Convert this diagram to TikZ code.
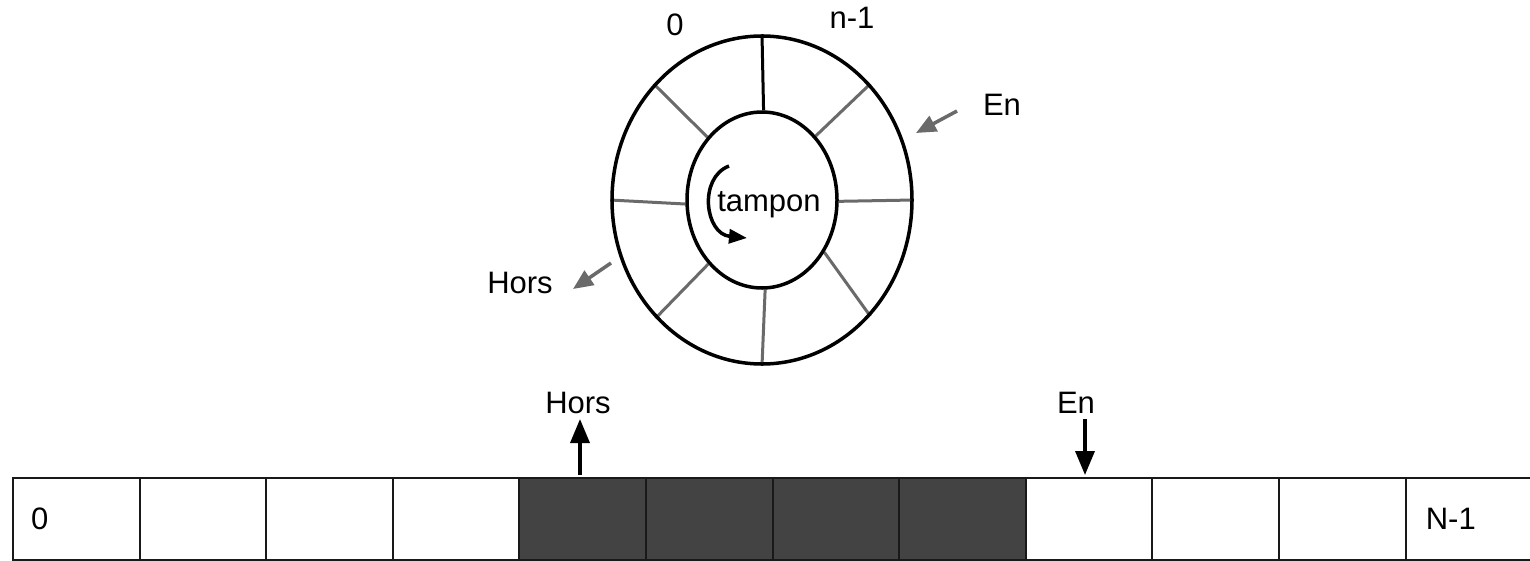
\documentclass[tikz,border=0pt]{standalone}
\usepackage{fontspec}
\setmainfont{Liberation Sans}
\usetikzlibrary{arrows.meta,shapes.geometric,backgrounds}
\definecolor{spokegray}{HTML}{6A6A6A}
\definecolor{darkcell}{HTML}{434343}
\begin{document}
\begin{tikzpicture}[x=1pt,y=-1pt,
  lbl/.style={font=\fontsize{31}{36}\selectfont, inner sep=0pt},
  cell/.style={draw=black!90, line width=2pt, minimum width=126.6pt, minimum height=82pt, inner sep=0pt},
  darkc/.style={cell, fill=darkcell},
  spoke/.style={draw=spokegray, line width=3pt},
  blackspoke/.style={draw=black, line width=3pt},
  ring/.style={draw=black, line width=3.5pt, ellipse, inner sep=0pt},
  grayarrow/.style={draw=spokegray, line width=3.5pt, -{Triangle[length=20pt,width=17pt]}},
  blackarrow/.style={draw=black, line width=3.5pt, -{Triangle[length=24pt,width=19pt]}}
]
\useasboundingbox (0,0) rectangle (1530,560);
\clip (0,0) rectangle (1530,560);

% ring buffer
\node[ring, minimum width=300pt, minimum height=328pt] (outer) at (762,200) {};
\node[ring, minimum width=150pt, minimum height=176pt] (inner) at (762,200) {};
\begin{pgfonlayer}{background}
\fill[white] (0,0) rectangle (1530,560);
\draw[blackspoke] (outer.90) -- (inner.89);
\draw[spoke] (outer.47) -- (inner.50);
\draw[spoke] (outer.0) -- (inner.-1.5);
\draw[spoke] (outer.-47.5) -- (inner.-40);
\draw[spoke] (outer.-90) -- (inner.-88);
\draw[spoke] (outer.-132) -- (inner.-130);
\draw[spoke] (outer.180) -- (inner.183);
\draw[spoke] (outer.133) -- (inner.131.5);
\end{pgfonlayer}

\node[lbl] (zero) at (675,25) {0};
\node[lbl] (nm1) at (852,18) {n-1};
\node[lbl] (tampon) at (769,205) {tampon};
\coordinate (ts) at (729,166);
\coordinate (te) at (747,238);
\draw[line width=3.5pt, -{Triangle[length=18pt,width=14pt]}] (ts) .. controls (698,178) and (705,234) .. (te);

\node[lbl] (enTop) at (1002,105) {En};
\node[lbl] (horsTop) at (520,283) {Hors};
\coordinate (enS) at (957,111);
\coordinate (enE) at (916,133);
\coordinate (hoS) at (611,263);
\coordinate (hoE) at (573,289);
\draw[grayarrow] (enS) -- (enE);
\draw[grayarrow] (hoS) -- (hoE);

% linear buffer
\foreach \i in {0,1,2,3,8,9,10,11} \node[cell] (c\i) at ({13+126.6*(\i+0.5)},519) {};
\foreach \i in {4,5,6,7} \node[darkc] (c\i) at ({13+126.6*(\i+0.5)},519) {};
\node[lbl, anchor=west] (t0) at ([xshift=19pt]c0.west) {0};
\node[lbl, anchor=west] (tN) at ([xshift=21pt]c11.west) {N-1};

\node[lbl] (horsB) at (578,403) {Hors};
\node[lbl] (enB) at (1076,403) {En};
\coordinate (hbS) at (580,475);
\coordinate (hbE) at (580,419);
\coordinate (ebS) at (1085,419);
\coordinate (ebE) at (1085,475);
\draw[blackarrow] (hbS) -- (hbE);
\draw[blackarrow] (ebS) -- (ebE);
\end{tikzpicture}
\end{document}
